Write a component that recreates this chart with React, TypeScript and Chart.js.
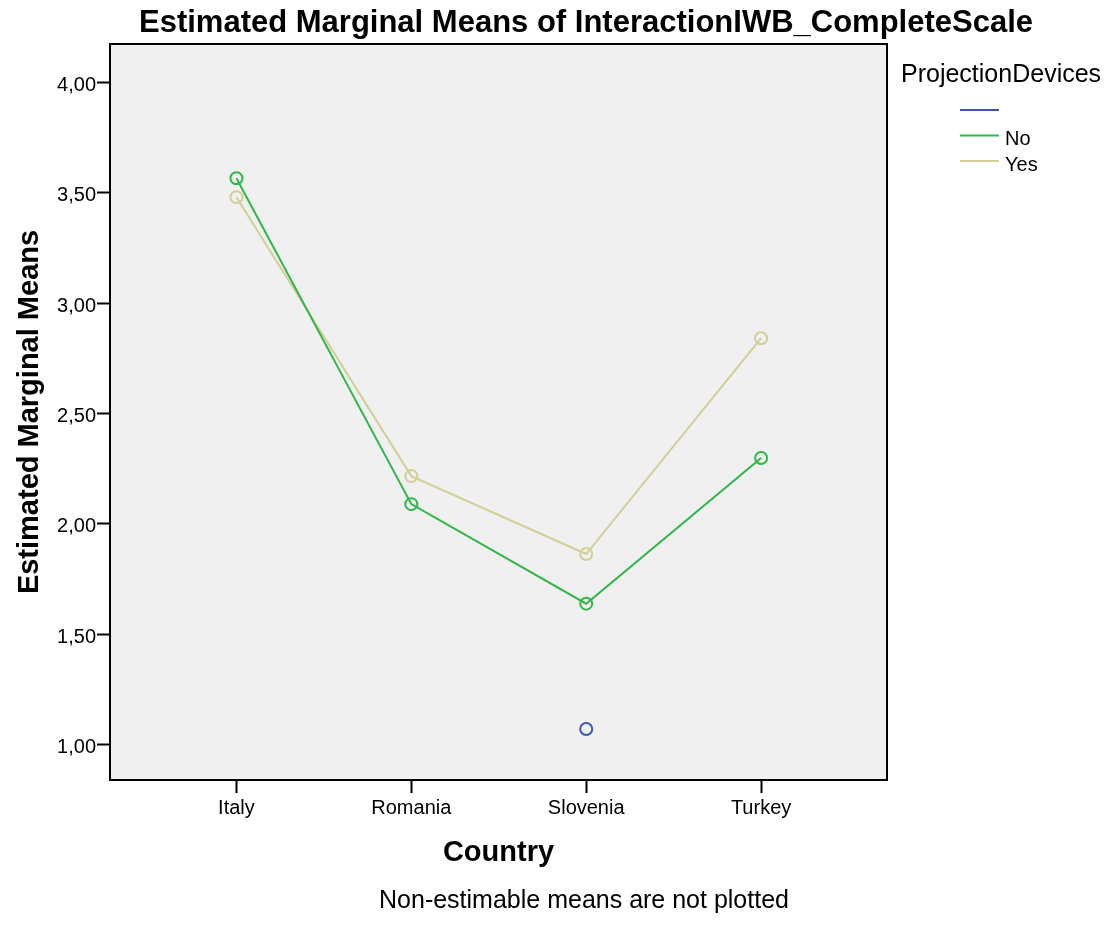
import React, { useEffect, useRef } from "react";
import { Chart, registerables } from "chart.js";

Chart.register(...registerables);

// ---- data ----
const countries = ["Italy", "Romania", "Slovenia", "Turkey"];
const seriesNames = ["", "No", "Yes"];
const blankMeans: (number | null)[] = [null, null, 1.07, null];
const noMeans: (number | null)[] = [3.566, 2.089, 1.638, 2.298];
const yesMeans: (number | null)[] = [3.48, 2.216, 1.863, 2.841];
const yTickValues = [1, 1.5, 2, 2.5, 3, 3.5, 4];
const yTickLabels = ["1,00", "1,50", "2,00", "2,50", "3,00", "3,50", "4,00"];

const chartTitle = "Estimated Marginal Means of InteractionIWB_CompleteScale";
const legendTitle = "ProjectionDevices";
const xTitle = "Country";
const yTitle = "Estimated Marginal Means";
const footnote = "Non-estimable means are not plotted";

// ---- styles ----
const seriesColors = ["#3E58AC", "#2EB848", "#D3CE97"];
const FONT = "'Liberation Sans', Arial, Helvetica, sans-serif";
const PLOT_BG = "#F0F0F0";

const toPoints = (vals: (number | null)[]) =>
  vals.map((v, i) => ({ x: i, y: v }));

const decorPlugin = {
  id: "decor",
  beforeDraw(chart: any) {
    const { ctx, chartArea } = chart;
    ctx.save();
    ctx.fillStyle = "#ffffff";
    ctx.fillRect(0, 0, chart.width, chart.height);
    ctx.fillStyle = PLOT_BG;
    ctx.fillRect(
      chartArea.left,
      chartArea.top,
      chartArea.right - chartArea.left,
      chartArea.bottom - chartArea.top
    );
    ctx.restore();
  },
  afterDraw(chart: any) {
    const { ctx, chartArea } = chart;
    ctx.save();
    // plot frame
    ctx.strokeStyle = "#000";
    ctx.lineWidth = 2;
    ctx.strokeRect(
      chartArea.left,
      chartArea.top,
      chartArea.right - chartArea.left,
      chartArea.bottom - chartArea.top
    );
    // title
    ctx.fillStyle = "#000";
    ctx.textAlign = "center";
    ctx.textBaseline = "alphabetic";
    ctx.font = `bold 31px ${FONT}`;
    ctx.fillText(chartTitle, 586, 32);
    // footnote
    ctx.font = `25px ${FONT}`;
    ctx.fillText(footnote, 584, 908);
    // legend
    ctx.textAlign = "left";
    ctx.font = `25px ${FONT}`;
    ctx.fillText(legendTitle, 901, 82);
    ctx.font = `20px ${FONT}`;
    seriesNames.forEach((name, i) => {
      const y = 110 + i * 25.5;
      ctx.strokeStyle = seriesColors[i];
      ctx.lineWidth = 2;
      ctx.beginPath();
      ctx.moveTo(960, y);
      ctx.lineTo(999, y);
      ctx.stroke();
      ctx.fillStyle = "#000";
      ctx.fillText(name, 1005, y + 9.5);
    });
    ctx.restore();
  },
};

export default function App() {
  const canvasRef = useRef<HTMLCanvasElement | null>(null);

  useEffect(() => {
    if (!canvasRef.current) return;
    const mk = (label: string, vals: (number | null)[], color: string, line: boolean) => ({
      label,
      data: toPoints(vals),
      borderColor: color,
      backgroundColor: color,
      borderWidth: 2,
      showLine: line,
      pointStyle: "circle",
      pointRadius: 6,
      pointBorderWidth: 2,
      pointBorderColor: color,
      pointBackgroundColor: "rgba(0,0,0,0)",
      tension: 0,
      spanGaps: false,
    });
    const chart = new Chart(canvasRef.current, {
      type: "line",
      data: {
        datasets: [
          mk(seriesNames[0], blankMeans, seriesColors[0], false),
          mk(seriesNames[1], noMeans, seriesColors[1], true),
          mk(seriesNames[2], yesMeans, seriesColors[2], true),
        ] as any,
      },
      options: {
        responsive: false,
        animation: false,
        events: [],
        layout: { padding: { top: 44, right: 222, bottom: 0, left: 0 } },
        plugins: {
          legend: { display: false },
          title: { display: false },
          tooltip: { enabled: false },
        },
        scales: {
          x: {
            type: "linear",
            min: -0.723,
            max: 3.72,
            afterBuildTicks: (s: any) => {
              s.ticks = countries.map((_, i) => ({ value: i }));
            },
            afterFit: (s: any) => {
              s.height = 153;
            },
            ticks: {
              callback: (v: any) => countries[v as number] ?? "",
              font: { size: 20, family: FONT },
              color: "#000",
              padding: 3,
              maxRotation: 0,
              autoSkip: false,
            },
            grid: {
              display: true,
              drawOnChartArea: false,
              drawTicks: true,
              tickLength: 13,
              tickWidth: 2,
              tickColor: "#000",
            },
            border: { display: false },
            title: {
              display: true,
              text: xTitle,
              color: "#000",
              font: { size: 29, weight: "bold", family: FONT },
              padding: { top: 0, bottom: 63 },
            },
          },
          y: {
            type: "linear",
            min: 0.839,
            max: 4.174,
            afterBuildTicks: (s: any) => {
              s.ticks = yTickValues.map((v) => ({ value: v }));
            },
            afterFit: (s: any) => {
              s.width = 110;
            },
            ticks: {
              callback: (_v: any, i: number) => yTickLabels[i],
              font: { size: 20, family: FONT },
              color: "#000",
              padding: 1,
              labelOffset: 3,
            },
            grid: {
              display: true,
              drawOnChartArea: false,
              drawTicks: true,
              tickLength: 13,
              tickWidth: 2,
              tickColor: "#000",
            },
            border: { display: false },
            title: {
              display: true,
              text: yTitle,
              color: "#000",
              font: { size: 29, weight: "bold", family: FONT },
              padding: { top: 13, bottom: 0 },
            },
          },
        },
      } as any,
      plugins: [decorPlugin],
    });
    return () => chart.destroy();
  }, []);

  return (
    <div style={{ position: "fixed", left: 0, top: 0, width: 1109, height: 933, background: "#fff" }}>
      <canvas ref={canvasRef} width={1109} height={933} style={{ display: "block" }} />
    </div>
  );
}
